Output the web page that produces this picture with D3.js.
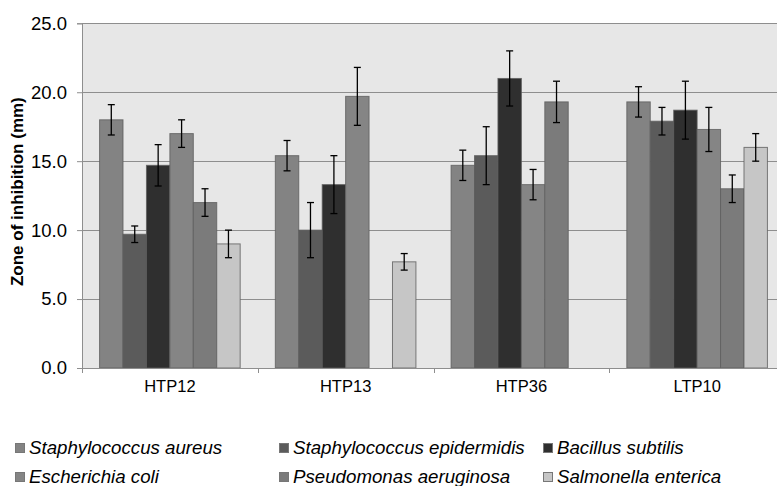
<!DOCTYPE html>
<html>
<head>
<meta charset="utf-8">
<script src="https://cdn.jsdelivr.net/npm/d3@7"></script>
<style>
  html, body { margin: 0; padding: 0; background: #fff; overflow: hidden; }
  svg { display: block; font-family: "Liberation Sans", Arial, sans-serif; }
</style>
</head>
<body>
<svg id="chart" width="777" height="486"></svg>
<script>
const categories = ["HTP12", "HTP13", "HTP36", "LTP10"];
const seriesNames = ["Staphylococcus aureus", "Staphylococcus epidermidis", "Bacillus subtilis",
                     "Escherichia coli", "Pseudomonas aeruginosa", "Salmonella enterica"];
const seriesColors = ["#838383", "#5b5b5b", "#2f2f2f", "#858585", "#7b7b7b", "#c6c6c6"];
const staphAureus   = [18.0, 15.4, 14.7, 19.3];
const staphEpi      = [9.7, 10.0, 15.4, 17.9];
const bacillus      = [14.7, 13.3, 21.0, 18.7];
const eColi         = [17.0, 19.7, 13.3, 17.3];
const pseudomonas   = [12.0, null, 19.3, 13.0];
const salmonella    = [9.0, 7.7, null, 16.0];
const errAureus     = [1.1, 1.1, 1.1, 1.1];
const errEpi        = [0.6, 2.0, 2.1, 1.0];
const errBacillus   = [1.5, 2.1, 2.0, 2.1];
const errColi       = [1.0, 2.1, 1.1, 1.6];
const errPseudo     = [1.0, null, 1.5, 1.0];
const errSalmonella = [1.0, 0.6, null, 1.0];
const yTicks = [0, 5, 10, 15, 20, 25];
const yTitle = "Zone of inhibition (mm)";

const values = [staphAureus, staphEpi, bacillus, eColi, pseudomonas, salmonella];
const errors = [errAureus, errEpi, errBacillus, errColi, errPseudo, errSalmonella];

const svg = d3.select("#chart");
const pLeft = 82, pTop = 23.3, pBottom = 368, pRight = 785;

const x0 = d3.scaleBand().domain(categories).range([pLeft, pRight]).padding(0);
const x1 = d3.scaleBand().domain(d3.range(seriesNames.length)).range([0, x0.bandwidth()])
  .paddingInner(0).paddingOuter(0.75);
const y = d3.scaleLinear().domain([0, 25]).range([pBottom, pTop]);

// plot background
svg.append("rect").attr("x", pLeft).attr("y", pTop).attr("width", pRight - pLeft).attr("height", pBottom - pTop)
  .attr("fill", "#e7e7e7");

// gridlines
svg.append("g").selectAll("line").data(yTicks.filter(d => d > 0)).join("line")
  .attr("x1", pLeft).attr("x2", pRight)
  .attr("y1", d => Math.round(y(d)) + 0.5).attr("y2", d => Math.round(y(d)) + 0.5)
  .attr("stroke", "#8e8e8e").attr("stroke-width", 1);

// left border
svg.append("line").attr("x1", pLeft + 0.5).attr("x2", pLeft + 0.5).attr("y1", pTop).attr("y2", pBottom)
  .attr("stroke", "#8e8e8e");

// bars
const data = [];
categories.forEach((c, ci) => {
  seriesNames.forEach((s, si) => {
    const v = values[si][ci];
    if (v !== null) data.push({ c, si, v, e: errors[si][ci] });
  });
});

const bars = svg.append("g");
bars.selectAll("rect").data(data).join("rect")
  .attr("x", d => x0(d.c) + x1(d.si))
  .attr("y", d => y(d.v))
  .attr("width", x1.bandwidth())
  .attr("height", d => y(0) - y(d.v))
  .attr("fill", d => seriesColors[d.si])
  .attr("stroke", "#5e5e5e").attr("stroke-width", 1).attr("stroke-opacity", 0.8);

// error bars
const eb = svg.append("g").attr("stroke", "#000").attr("stroke-width", 1.3);
data.forEach(d => {
  const cx = x0(d.c) + x1(d.si) + x1.bandwidth() / 2;
  const yt = y(d.v + d.e), yb = y(d.v - d.e);
  eb.append("line").attr("x1", cx).attr("x2", cx).attr("y1", yt).attr("y2", yb);
  eb.append("line").attr("x1", cx - 3.5).attr("x2", cx + 3.5).attr("y1", yt).attr("y2", yt);
  eb.append("line").attr("x1", cx - 3.5).attr("x2", cx + 3.5).attr("y1", yb).attr("y2", yb);
});

// y axis
const yAxis = d3.axisLeft(y).tickValues(yTicks).tickFormat(d3.format(".1f")).tickSize(5).tickPadding(10);
const gy = svg.append("g").attr("transform", `translate(${pLeft},0)`).call(yAxis);
gy.select(".domain").attr("stroke", "#8e8e8e");
gy.selectAll(".tick line").attr("stroke", "#8e8e8e");
gy.selectAll(".tick text").attr("font-size", "18.5px").attr("fill", "#000")
  .attr("font-family", "Liberation Sans, Arial, sans-serif");

// x axis
const gx = svg.append("g").attr("transform", `translate(0,${pBottom})`);
gx.append("line").attr("x1", pLeft).attr("x2", pRight).attr("y1", 0.5).attr("y2", 0.5).attr("stroke", "#8e8e8e");
const bounds = categories.map(c => x0(c)).concat([pRight]);
gx.selectAll("line.tk").data(bounds).join("line").attr("class", "tk")
  .attr("x1", d => Math.round(d) + 0.5).attr("x2", d => Math.round(d) + 0.5)
  .attr("y1", 0).attr("y2", 5).attr("stroke", "#8e8e8e");
const xAxis = d3.axisBottom(x0).tickSize(0).tickPadding(12);
const gxl = svg.append("g").attr("transform", `translate(0,${pBottom})`).call(xAxis);
gxl.select(".domain").remove();
gxl.selectAll(".tick text").attr("font-size", "16.5px").attr("fill", "#000")
  .attr("font-family", "Liberation Sans, Arial, sans-serif");

// y title
svg.append("text").attr("transform", `translate(23,${(pTop + pBottom) / 2 - 4}) rotate(-90)`)
  .attr("text-anchor", "middle").attr("font-size", "17px").attr("font-weight", "bold")
  .text(yTitle);

// legend
const legX = [15, 279, 543];
const legY = [454, 483];
const leg = svg.append("g");
seriesNames.forEach((s, i) => {
  const col = i % 3, row = Math.floor(i / 3);
  const g = leg.append("g").attr("transform", `translate(${legX[col]},${legY[row]})`);
  g.append("rect").attr("x", 0.5).attr("y", -10.5).attr("width", 9).attr("height", 9)
    .attr("fill", seriesColors[i]).attr("stroke", "#777").attr("stroke-width", 1);
  g.append("text").attr("x", 14).attr("y", 0).attr("font-size", "18.7px").attr("font-style", "italic")
    .attr("fill", "#000").text(s);
});
</script>
</body>
</html>
